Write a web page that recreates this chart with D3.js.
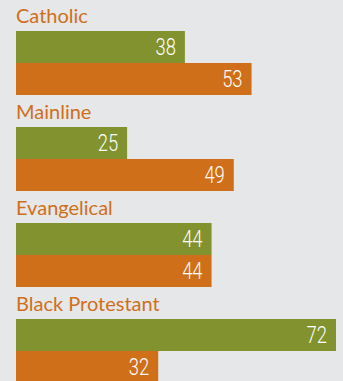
<!DOCTYPE html>
<html>
<head>
<meta charset="utf-8">
<script src="https://cdn.jsdelivr.net/npm/d3@7"></script>
<style>
  body { margin: 0; background: #e6e7e9; }
  svg { display: block; }
</style>
</head>
<body>
<div id="chart"></div>
<script>
var categories = ['Catholic', 'Mainline', 'Evangelical', 'Black Protestant'];
var greenValues = [38, 25, 44, 72];
var orangeValues = [53, 49, 44, 32];

var width = 343;
var height = 381;
var green = '#81922e';
var orange = '#cf6f1a';

var x = d3.scaleLinear()
  .domain([0, 72])
  .range([16, 336]);

var y = d3.scaleBand()
  .domain(categories)
  .range([0, 384]);

var svg = d3.select('#chart')
  .append('svg')
  .attr('width', width)
  .attr('height', height);

var groups = svg.selectAll('g.cat')
  .data(categories)
  .enter()
  .append('g')
  .attr('class', 'cat')
  .attr('transform', (d) => 'translate(0,' + y(d) + ')');

groups.append('text')
  .attr('x', 16)
  .attr('y', 23)
  .attr('fill', orange)
  .style('font-family', 'Lato, sans-serif')
  .style('font-size', '20px')
  .text((d) => d);

var barH = 32;
var series = [
  { values: greenValues, color: green, offset: 31 },
  { values: orangeValues, color: orange, offset: 63 }
];

series.forEach(function(s) {
  groups.append('rect')
    .attr('x', x(0))
    .attr('y', s.offset)
    .attr('width', (d, i) => x(s.values[i]) - x(0))
    .attr('height', barH)
    .attr('fill', s.color);

  // condensed look for the value labels
  groups.append('text')
    .attr('transform', (d, i) => 'translate(' + (x(s.values[i]) - 9) + ',' + (s.offset + 24) + ') scale(0.8,1)')
    .attr('text-anchor', 'end')
    .attr('fill', '#fff')
    .style('font-family', 'Roboto, sans-serif')
    .style('font-weight', 300)
    .style('font-size', '23px')
    .text((d, i) => s.values[i]);
});
</script>
</body>
</html>
